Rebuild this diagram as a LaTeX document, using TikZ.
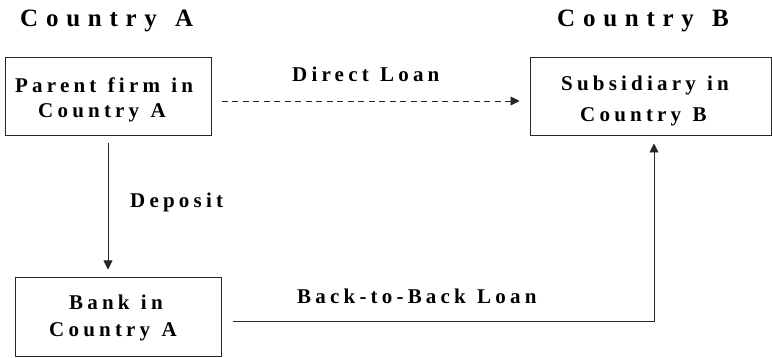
\documentclass[tikz,border=0pt]{standalone}
\usepackage{fontspec}
\setmainfont{Liberation Serif}
\newfontfamily\headfont[LetterSpace=31,WordSpace=1.3]{Liberation Serif}
\newfontfamily\wordfont[LetterSpace=20,WordSpace=1.2]{Liberation Serif}
\usetikzlibrary{arrows.meta}
\tikzset{
  x=1pt, y=-1pt,
  firmbox/.style={draw=black!85, line width=1pt, minimum width=#1, minimum height=78pt, inner sep=0pt},
  heading/.style={anchor=base west, inner sep=0pt, font=\headfont\bfseries\fontsize{25}{29}\selectfont},
  boxtext/.style={anchor=base west, inner sep=0pt, font=\wordfont\bfseries\fontsize{21}{25}\selectfont},
  flowlabel/.style={anchor=base west, inner sep=0pt, font=\wordfont\bfseries\fontsize{21}{25}\selectfont},
  flow/.style={line width=0.9pt, draw=black!85, -{Triangle[length=9pt,width=9pt]}},
}
\begin{document}
\begin{tikzpicture}
\useasboundingbox (0,0) rectangle (772,358);

% column headings
\node[heading] (headA) at (20,27) {Country A};
\node[heading] (headB) at (557,27) {Country B};

% the three parties
\node[firmbox=206pt] (parent) at (108,97) {};
\node[firmbox=241pt] (sub) at (650.5,97) {};
\node[firmbox=206pt, minimum height=79pt] (bank) at (118,317.5) {};

\node[boxtext] (parent1) at (15,93) {Parent firm in};
\node[boxtext] (parent2) at (38,118) {Country A};
\node[boxtext] (sub1) at (561,91) {Subsidiary in};
\node[boxtext] (sub2) at (580,122) {Country B};
\node[boxtext] (bank1) at (69,310) {Bank in};
\node[boxtext] (bank2) at (49,337) {Country A};

% direct loan (dashed)
\draw[flow, dash pattern=on 6pt off 4.5pt]
  ([xshift=10pt,yshift=-4pt]parent.east) -- ([xshift=-10pt,yshift=-4pt]sub.west);
\node[flowlabel] (direct) at (292,82) {Direct Loan};

% deposit with the bank
\draw[flow] ([yshift=-7pt]parent.south) -- ([yshift=8pt]parent.south |- bank.north);
\node[flowlabel] (deposit) at (130,208) {Deposit};

% back-to-back loan
\coordinate (corner) at ([xshift=3.5pt]sub.south |- 0,321);
\draw[flow] ([xshift=11pt]bank.east |- 0,321) -- (corner) -- ([yshift=-7pt]corner |- sub.south);
\node[flowlabel] (b2b) at (297,304) {Back-to-Back Loan};
\end{tikzpicture}
\end{document}
